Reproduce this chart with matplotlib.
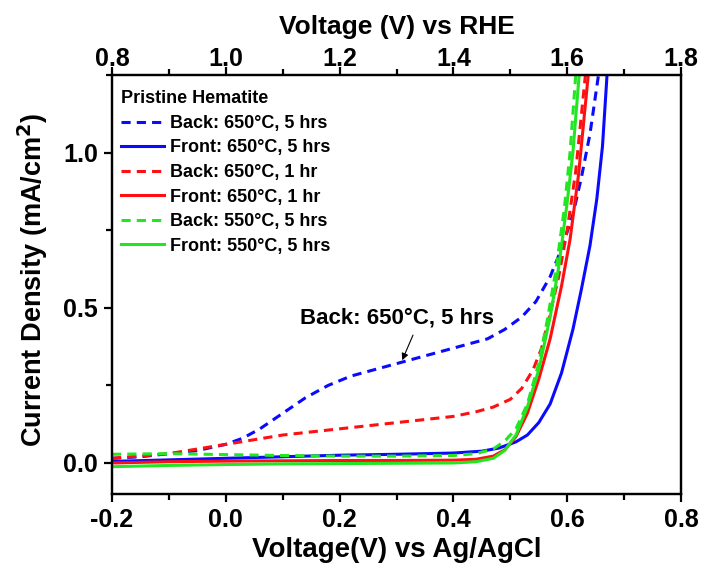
import matplotlib
matplotlib.use('Agg')
import matplotlib.pyplot as plt
from matplotlib.ticker import MultipleLocator, FixedLocator, FormatStrFormatter

plt.rcParams['font.family'] = ['Liberation Sans', 'DejaVu Sans']
plt.rcParams['font.weight'] = 'bold'
plt.rcParams['mathtext.default'] = 'bf'

# ---- data (V vs Ag/AgCl, mA/cm^2) ----
back650_5_x = [-0.2, -0.15, -0.1, -0.05, 0.0, 0.03, 0.06, 0.1, 0.14, 0.18, 0.22, 0.26, 0.30,
               0.34, 0.38, 0.42, 0.46, 0.49, 0.52, 0.545, 0.57, 0.59, 0.61, 0.625, 0.64, 0.655]
back650_5_y = [0.015, 0.02, 0.03, 0.04, 0.06, 0.08, 0.11, 0.16, 0.21, 0.25, 0.28, 0.30, 0.32,
               0.34, 0.36, 0.38, 0.40, 0.43, 0.47, 0.52, 0.60, 0.69, 0.80, 0.92, 1.06, 1.25]

front650_5_x = [-0.2, -0.1, 0.0, 0.1, 0.2, 0.3, 0.4, 0.45, 0.48, 0.51, 0.53, 0.55, 0.57,
                0.59, 0.61, 0.625, 0.64, 0.652, 0.662, 0.670]
front650_5_y = [0.005, 0.01, 0.015, 0.02, 0.025, 0.028, 0.032, 0.038, 0.048, 0.068, 0.09, 0.13, 0.19,
                0.29, 0.43, 0.56, 0.70, 0.85, 1.02, 1.25]

back650_1_x = [-0.2, -0.1, -0.05, 0.0, 0.05, 0.1, 0.15, 0.2, 0.25, 0.3, 0.35, 0.4, 0.44, 0.47,
               0.50, 0.52, 0.54, 0.555, 0.57, 0.585, 0.60, 0.615, 0.632]
back650_1_y = [0.015, 0.03, 0.045, 0.06, 0.075, 0.09, 0.10, 0.11, 0.12, 0.13, 0.14, 0.15, 0.165, 0.18,
               0.205, 0.24, 0.30, 0.37, 0.48, 0.60, 0.75, 0.94, 1.25]

front650_1_x = [-0.2, -0.1, 0.0, 0.1, 0.2, 0.3, 0.4, 0.44, 0.47, 0.49, 0.51, 0.53, 0.55, 0.57,
                0.59, 0.605, 0.62, 0.637]
front650_1_y = [0.0, 0.004, 0.006, 0.007, 0.008, 0.008, 0.009, 0.012, 0.022, 0.042, 0.085, 0.16, 0.27, 0.40,
                0.57, 0.72, 0.93, 1.25]

back550_5_x = [-0.2, -0.1, 0.0, 0.1, 0.2, 0.3, 0.4, 0.44, 0.47, 0.49, 0.51, 0.53, 0.55, 0.565,
               0.58, 0.595, 0.605, 0.615]
back550_5_y = [0.028, 0.03, 0.027, 0.024, 0.022, 0.022, 0.024, 0.03, 0.045, 0.07, 0.11, 0.19, 0.32, 0.46,
               0.62, 0.82, 1.0, 1.25]

front550_5_x = [-0.2, -0.1, 0.0, 0.1, 0.2, 0.3, 0.4, 0.44, 0.47, 0.49, 0.51, 0.53, 0.55, 0.57,
                0.585, 0.60, 0.61, 0.621]
front550_5_y = [-0.012, -0.008, -0.005, -0.003, -0.002, -0.001, 0.0, 0.004, 0.015, 0.04, 0.09, 0.18, 0.30, 0.47,
                0.63, 0.84, 1.0, 1.25]

labels = ['Back: 650\u00b0C, 5 hrs', 'Front: 650\u00b0C, 5 hrs',
          'Back: 650\u00b0C, 1 hr', 'Front: 650\u00b0C, 1 hr',
          'Back: 550\u00b0C, 5 hrs', 'Front: 550\u00b0C, 5 hrs']

bottom_ticks = [-0.2, 0.0, 0.2, 0.4, 0.6, 0.8]
top_ticks = [0.8, 1.0, 1.2, 1.4, 1.6, 1.8]   # RHE = Ag/AgCl + 1.0 V

BLUE = '#0a0aff'
RED = '#ff1010'
GREEN = '#22e622'

fig = plt.figure(figsize=(7.03, 5.66), dpi=100)
ax = fig.add_axes([112 / 703, 1 - 494 / 566, 569 / 703, 419 / 566])

lw = 2.2
dash = (3, 2)
ax.plot(back650_5_x, back650_5_y, color=BLUE, lw=lw, dashes=dash, label=labels[0])
ax.plot(front650_5_x, front650_5_y, color=BLUE, lw=lw, label=labels[1])
ax.plot(back650_1_x, back650_1_y, color=RED, lw=lw, dashes=dash, label=labels[2])
ax.plot(front650_1_x, front650_1_y, color=RED, lw=lw, label=labels[3])
ax.plot(back550_5_x, back550_5_y, color=GREEN, lw=lw, dashes=dash, label=labels[4])
ax.plot(front550_5_x, front550_5_y, color=GREEN, lw=lw, label=labels[5])

ax.set_xlim(-0.2, 0.8)
ax.set_ylim(-0.1, 1.25)

ax.xaxis.set_major_locator(FixedLocator(bottom_ticks))
ax.xaxis.set_minor_locator(MultipleLocator(0.1))
ax.xaxis.set_major_formatter(FormatStrFormatter('%.1f'))
ax.yaxis.set_major_locator(MultipleLocator(0.5))
ax.yaxis.set_minor_locator(MultipleLocator(0.25))
ax.yaxis.set_major_formatter(FormatStrFormatter('%.1f'))

for s in ax.spines.values():
    s.set_linewidth(1.6)
ax.tick_params(which='major', direction='out', length=6, width=1.6, labelsize=18, pad=4)
ax.tick_params(which='minor', direction='out', length=4, width=1.6)

ax.set_xlabel('Voltage(V) vs Ag/AgCl', fontsize=20, fontweight='bold', labelpad=4)
ax.set_ylabel('Current Density (mA/cm$^{2}$)', fontsize=19.5, fontweight='bold')
ax.yaxis.set_label_coords(-0.109, 0.511)

# top axis in V vs RHE
top = ax.twiny()
top.set_xlim(-0.2 + 1.0, 0.8 + 1.0)
top.xaxis.set_major_locator(FixedLocator(top_ticks))
top.xaxis.set_minor_locator(MultipleLocator(0.1))
top.xaxis.set_major_formatter(FormatStrFormatter('%.1f'))
top.tick_params(which='major', direction='out', length=5.5, width=1.6, labelsize=18, pad=-2.5)
top.tick_params(which='minor', direction='out', length=4, width=1.6)
for s in top.spines.values():
    s.set_linewidth(1.6)
top.set_xlabel('Voltage (V) vs RHE', fontsize=19, fontweight='bold', labelpad=9)

leg = ax.legend(loc='upper left', bbox_to_anchor=(0.0, 0.985), frameon=False,
                title='Pristine Hematite', alignment='left',
                prop={'size': 13, 'weight': 'bold'},
                title_fontproperties={'size': 13, 'weight': 'bold'},
                handlelength=2.4, handletextpad=0.3, labelspacing=0.42,
                borderpad=0.2, borderaxespad=0.3)

ax.text(0.30, 0.467, 'Back: 650\u00b0C, 5 hrs', ha='center', va='center',
        fontsize=16, fontweight='bold')
ax.annotate('', xy=(0.31, 0.331), xytext=(0.329, 0.412),
            arrowprops=dict(arrowstyle='-|>', color='black', lw=0.8,
                            mutation_scale=10, shrinkA=0, shrinkB=0))

fig.savefig('out.png', dpi=100)
